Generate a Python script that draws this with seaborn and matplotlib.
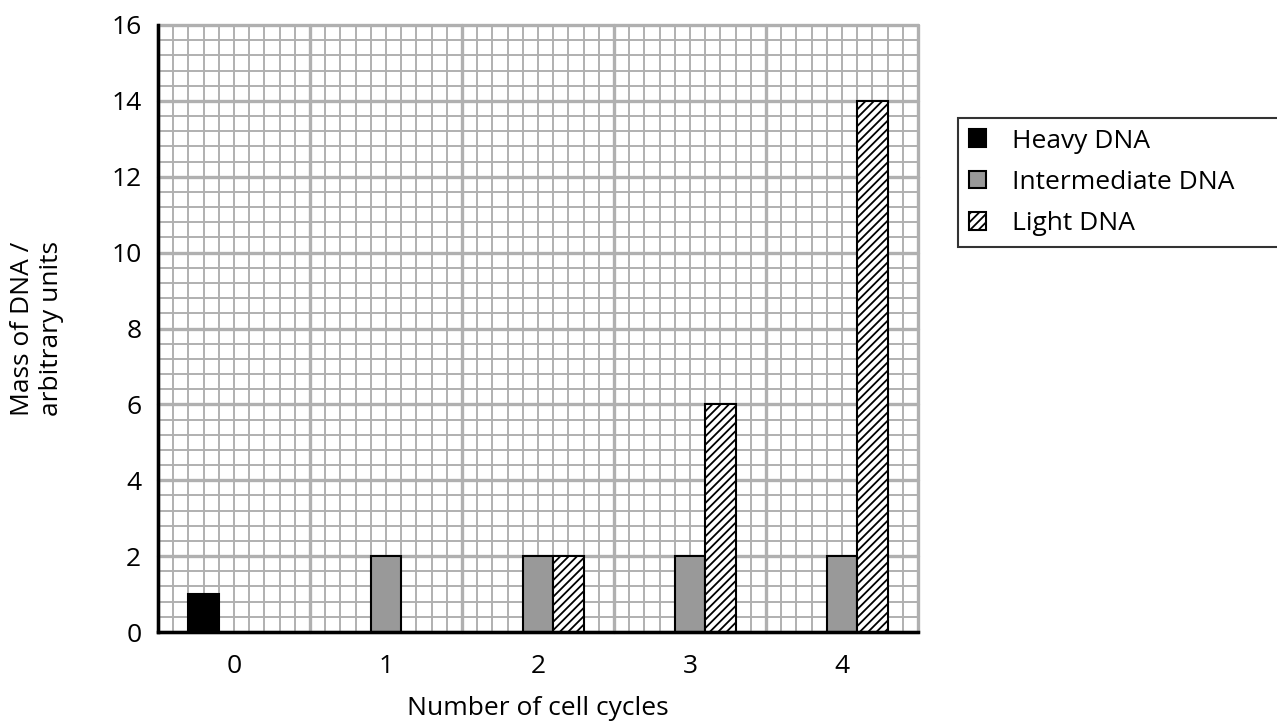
import pandas as pd
import numpy as np
import seaborn as sns
import matplotlib.pyplot as plt
from matplotlib.patches import Patch

# --- dados ---
ciclos = ['0', '1', '2', '3', '4']
tipos = ['Heavy DNA', 'Intermediate DNA', 'Light DNA']
heavy = [1, np.nan, np.nan, np.nan, np.nan]
intermediate = [np.nan, 2, 2, 2, 2]
light = [np.nan, np.nan, 2, 6, 14]
cores = ['#000000', '#999999', '#ffffff']
hachuras = ['', '', '////']

df = pd.DataFrame({
    'ciclo': ciclos * 3,
    'tipo': [t for t in tipos for _ in ciclos],
    'massa': heavy + intermediate + light,
})

sns.set_style("white")
plt.rcParams['font.family'] = ['Open Sans', 'DejaVu Sans']
plt.rcParams['hatch.linewidth'] = 1.3
for k in ['text.color', 'axes.labelcolor', 'xtick.color', 'ytick.color']:
    plt.rcParams[k] = 'black'

fig = plt.figure(figsize=(12.77, 7.24), dpi=100)
ax = fig.add_axes([158 / 1277, 1 - 632 / 724, 760 / 1277, 607 / 724])

sns.barplot(data=df, x='ciclo', y='massa', hue='tipo', hue_order=tipos,
            palette=cores, width=0.6, edgecolor='black', linewidth=1.5,
            legend=False, ax=ax, zorder=3)

# hachura nas barras "Light"
for cont, h in zip(ax.containers, hachuras):
    for p in cont:
        p.set_hatch(h)

ax.set_xlim(-0.5, 4.5)
ax.set_ylim(0, 16)

# papel milimetrado
for x in np.arange(-0.5, 4.51, 0.1):
    major = abs((x + 0.5) - round(x + 0.5)) < 1e-6
    ax.axvline(x, color='#b0b0b0', lw=2.4 if major else 1.4, zorder=0, clip_on=False)
for y in np.arange(0, 16.01, 0.4):
    major = abs(y / 2 - round(y / 2)) < 1e-6
    ax.axhline(y, color='#b0b0b0', lw=2.4 if major else 1.4, zorder=0, clip_on=False)

fs = 19
ax.set_yticks(range(0, 17, 2))
ax.set_xticks(range(5))
ax.set_xticklabels(ciclos)
ax.set_xticks(np.arange(-0.5, 4.6, 1), minor=True)
ax.tick_params(axis='x', which='major', length=0, pad=16, labelsize=fs)
ax.tick_params(axis='x', which='minor', length=12, width=1.5, color='black', direction='out')
ax.tick_params(axis='y', length=8, width=1.5, color='black', direction='out', labelsize=fs, pad=4)

for s in ['top', 'right']:
    ax.spines[s].set_visible(False)
for s in ['left', 'bottom']:
    ax.spines[s].set_color('black')
    ax.spines[s].set_linewidth(2.5)
    ax.spines[s].set_zorder(5)

ax.set_xlabel('Number of cell cycles', fontsize=fs, labelpad=12)
ax.set_ylabel('Mass of DNA /\narbitrary units', fontsize=fs, labelpad=34)

handles = [Patch(facecolor=c, edgecolor='black', hatch=h, linewidth=1.5)
           for c, h in zip(cores, hachuras)]
leg = fig.legend(handles, tipos, loc='upper left',
                 bbox_to_anchor=(958 / 1277, 1 - 118 / 724, 0.3, 0),
                 mode='expand', fontsize=fs, frameon=True, fancybox=False,
                 handlelength=0.65, handleheight=0.65, handletextpad=1.0,
                 labelspacing=0.62, borderpad=0.4, borderaxespad=0)
leg.get_frame().set_edgecolor('black')
leg.get_frame().set_linewidth(1.5)

plt.savefig('out.png', dpi=100)
